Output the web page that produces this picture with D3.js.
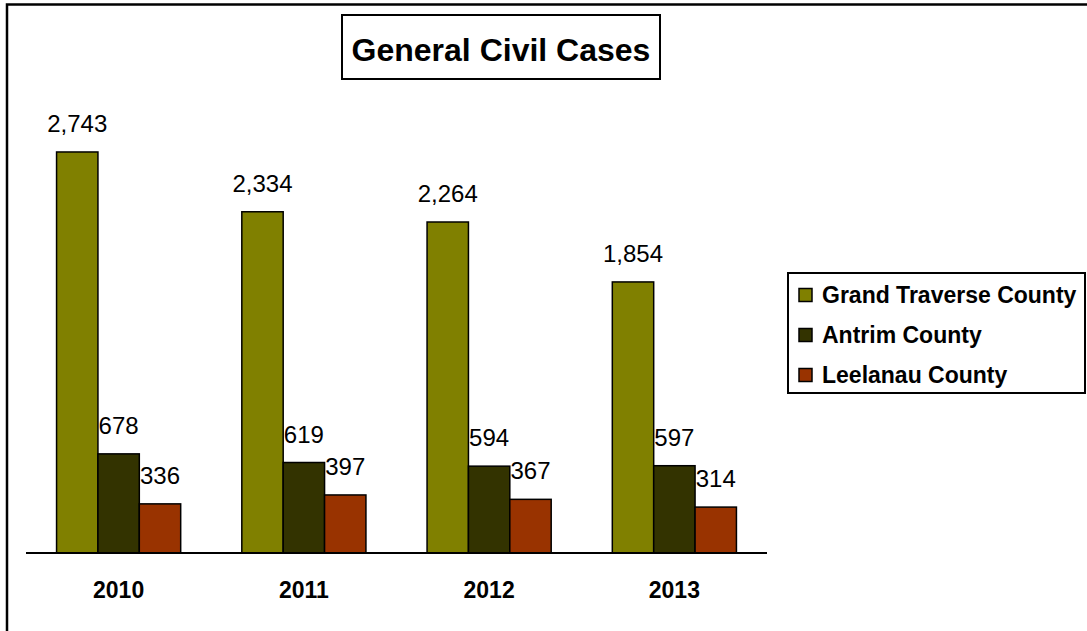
<!DOCTYPE html>
<html>
<head>
<meta charset="utf-8">
<script src="https://cdn.jsdelivr.net/npm/d3@7"></script>
<style>
  body { margin: 0; background: #fff; }
  svg { display: block; font-family: Arial, "Liberation Sans", sans-serif; }
</style>
</head>
<body>
<svg width="1087" height="631"></svg>
<script>
var years = ["2010", "2011", "2012", "2013"];
var counties = ["Grand Traverse County", "Antrim County", "Leelanau County"];
var grandTraverse = [2743, 2334, 2264, 1854];
var antrim = [678, 619, 594, 597];
var leelanau = [336, 397, 367, 314];
var colors = ["#808000", "#333300", "#993300"];

var svg = d3.select("svg");

// outer chart border (runs off the right and bottom)
svg.append("rect")
    .attr("x", 7).attr("y", 4.5)
    .attr("width", 1200).attr("height", 800)
    .attr("fill", "none").attr("stroke", "#000").attr("stroke-width", 2.5);

var series = [grandTraverse, antrim, leelanau];
var data = [];
for (var i = 0; i < years.length; i++) {
    for (var j = 0; j < counties.length; j++) {
        data.push({year: years[i], county: counties[j], value: series[j][i], k: j});
    }
}

var x = d3.scaleBand().domain(years).range([26, 767]).paddingInner(0.33).paddingOuter(0.165);
var xs = d3.scaleBand().domain(counties).range([0, x.bandwidth()]);
var y = d3.scaleLinear().domain([0, 3000]).range([553, 114.4]);

svg.selectAll("rect.bar").data(data).enter()
    .append("rect")
    .attr("class", "bar")
    .attr("x", function (d) { return x(d.year) + xs(d.county); })
    .attr("y", function (d) { return y(d.value); })
    .attr("width", xs.bandwidth())
    .attr("height", function (d) { return y(0) - y(d.value); })
    .attr("fill", function (d) { return colors[d.k]; })
    .attr("stroke", "#000")
    .attr("stroke-width", 1.5);

svg.selectAll("text.val").data(data).enter()
    .append("text")
    .attr("class", "val")
    .text(function (d) { return d3.format(",")(d.value); })
    .attr("x", function (d) { return x(d.year) + xs(d.county) + xs.bandwidth() / 2; })
    .attr("y", function (d) { return y(d.value) - 20; })
    .attr("text-anchor", "middle")
    .attr("font-size", 24);

// baseline
svg.append("line")
    .attr("x1", 26).attr("x2", 767)
    .attr("y1", y(0)).attr("y2", y(0))
    .attr("stroke", "#000").attr("stroke-width", 2);

// year labels
svg.selectAll("text.year").data(years).enter()
    .append("text")
    .attr("class", "year")
    .text(function (d) { return d; })
    .attr("x", function (d) { return x(d) + x.bandwidth() / 2; })
    .attr("y", 598)
    .attr("text-anchor", "middle")
    .attr("font-size", 23)
    .attr("font-weight", "bold");

// title
svg.append("rect")
    .attr("x", 342).attr("y", 15)
    .attr("width", 318).attr("height", 64)
    .attr("fill", "#fff").attr("stroke", "#000").attr("stroke-width", 2);
svg.append("text")
    .text("General Civil Cases")
    .attr("x", 501).attr("y", 61)
    .attr("text-anchor", "middle")
    .attr("font-size", 32)
    .attr("font-weight", "bold");

// legend
var legend = svg.append("g");
legend.append("rect")
    .attr("x", 788).attr("y", 273)
    .attr("width", 297).attr("height", 120)
    .attr("fill", "#fff").attr("stroke", "#000").attr("stroke-width", 2);
var rows = legend.selectAll("g.row").data(counties).enter()
    .append("g")
    .attr("class", "row")
    .attr("transform", function (d, i) { return "translate(0," + (295 + i * 40) + ")"; });
rows.append("rect")
    .attr("x", 799).attr("y", -6.5)
    .attr("width", 13).attr("height", 13)
    .attr("fill", function (d, i) { return colors[i]; })
    .attr("stroke", "#000").attr("stroke-width", 1.5);
rows.append("text")
    .text(function (d) { return d; })
    .attr("x", 822).attr("y", 8)
    .attr("font-size", 23)
    .attr("font-weight", "bold");
</script>
</body>
</html>
